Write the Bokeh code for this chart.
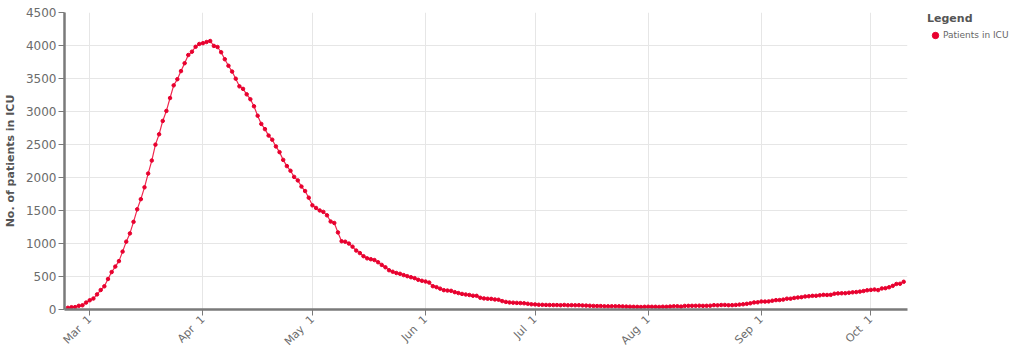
import pandas as pd
from math import pi
from bokeh.plotting import figure
from bokeh.models import (Range1d, SingleIntervalTicker, MonthsTicker, DatetimeTickFormatter,
                          Legend, LegendItem, ColumnDataSource)
from bokeh.embed import file_html
from bokeh.resources import INLINE

# ---- data: Italy, patients in intensive care (2020) ----
start_date = "2020-02-24"
icu_feb = [26, 35, 36, 56, 64, 105]
icu_mar = [140, 166, 229, 295, 351, 462, 567, 650, 733, 877, 1028, 1153, 1328, 1518, 1672, 1851,
           2060, 2257, 2498, 2655, 2857, 3009, 3204, 3396, 3489, 3612, 3732, 3856, 3906, 3981, 4023]
icu_apr = [4035, 4053, 4068, 3994, 3977, 3898, 3792, 3693, 3605, 3497, 3381, 3343, 3260, 3186, 3079,
           2936, 2812, 2733, 2635, 2573, 2471, 2384, 2267, 2173, 2102, 2009, 1956, 1863, 1795, 1694]
icu_may = [1578, 1539, 1501, 1479, 1427, 1333, 1311, 1168, 1034, 1027, 999, 952, 893, 855, 808, 775,
           762, 749, 716, 676, 640, 595, 572, 553, 541, 521, 505, 489, 475, 450, 435]
icu_jun = [424, 408, 353, 338, 316, 293, 287, 283, 263, 249, 236, 227, 220, 209, 207, 178, 168, 163,
           161, 152, 148, 127, 115, 107, 103, 100, 97, 94, 87, 79]
icu_jul = [77, 72, 71, 69, 68, 67, 67, 65, 69, 64, 66, 64, 65, 62, 59, 57, 54, 52, 52, 49, 48, 49,
           49, 48, 47, 44, 43, 41, 40, 38, 41]
icu_aug = [42, 41, 41, 39, 42, 41, 45, 49, 49, 44, 54, 55, 56, 56, 58, 55, 56, 58, 66, 63, 68, 69,
           65, 66, 69, 74, 79, 86, 94, 107, 109]
icu_sep = [121, 120, 123, 133, 142, 143, 150, 164, 164, 175, 182, 187, 197, 201, 207, 208, 215, 222,
           220, 222, 239, 244, 246, 247, 254, 260, 264, 271, 280, 291]
icu_oct = [297, 303, 294, 319, 323, 337, 358, 387, 390, 420]

series_label = "Patients in ICU"
y_title = "No. of patients in ICU"
legend_title = "Legend"

values = icu_feb + icu_mar + icu_apr + icu_may + icu_jun + icu_jul + icu_aug + icu_sep + icu_oct
dates = pd.date_range(start_date, periods=len(values), freq="D")
src = ColumnDataSource(dict(date=dates, icu=values))

RED = "#e8002e"
AXIS = "#7a7a7a"
FONT = "DejaVu Sans"

p = figure(frame_width=843, frame_height=297, x_axis_type="datetime", output_backend="svg",
           toolbar_location=None,
           x_range=Range1d(pd.Timestamp("2020-02-23 02:00"), pd.Timestamp("2020-10-11 01:00")),
           y_range=Range1d(0, 4500),
           min_border_left=62, min_border_right=110, min_border_top=12, min_border_bottom=46)
p.outline_line_color = None
p.background_fill_color = "white"
p.border_fill_color = "white"

line = p.line("date", "icu", source=src, color="#f0284f", line_width=1.2)
pts = p.scatter("date", "icu", source=src, size=3.5, color=RED)

# axes
p.yaxis.ticker = SingleIntervalTicker(interval=500)
p.xaxis.ticker = MonthsTicker(months=list(range(12)))
p.xaxis.formatter = DatetimeTickFormatter(months="%b\u00a0%e", days="%b\u00a0%e")
p.xaxis.major_label_orientation = pi / 4

for ax in (p.xaxis[0], p.yaxis[0]):
    ax.axis_line_color = AXIS
    ax.axis_line_width = 2.5
    ax.major_tick_line_color = AXIS
    ax.major_tick_line_width = 1
    ax.major_tick_out = 6
    ax.major_tick_in = 0
    ax.minor_tick_line_color = None
    ax.major_label_text_color = "#6b6b6b"
    ax.major_label_text_font = FONT
p.yaxis.major_label_text_font_size = "12px"
p.xaxis.major_label_text_font_size = "11px"
p.yaxis.major_label_standoff = 2
p.xaxis.major_label_standoff = 2
p.yaxis.axis_label = y_title
p.yaxis.axis_label_text_font = FONT
p.yaxis.axis_label_text_font_size = "11px"
p.yaxis.axis_label_text_font_style = "bold"
p.yaxis.axis_label_text_color = "#555555"
p.yaxis.axis_label_standoff = 6

p.grid.grid_line_color = "#e6e6e6"
p.grid.grid_line_width = 1

legend = Legend(items=[LegendItem(label=series_label, renderers=[pts])],
                title=legend_title, title_text_font=FONT, title_text_font_size="11px",
                title_text_font_style="bold", title_text_color="#555555",
                label_text_font=FONT, label_text_font_size="9px", label_text_color="#666666",
                glyph_width=16, glyph_height=20, label_height=20, label_standoff=0,
                title_standoff=0, padding=0, margin=0,
                border_line_color=None, background_fill_alpha=0,
                location=(20, 264))
p.add_layout(legend, "right")

open("out.html", "w").write(file_html(p, INLINE))
